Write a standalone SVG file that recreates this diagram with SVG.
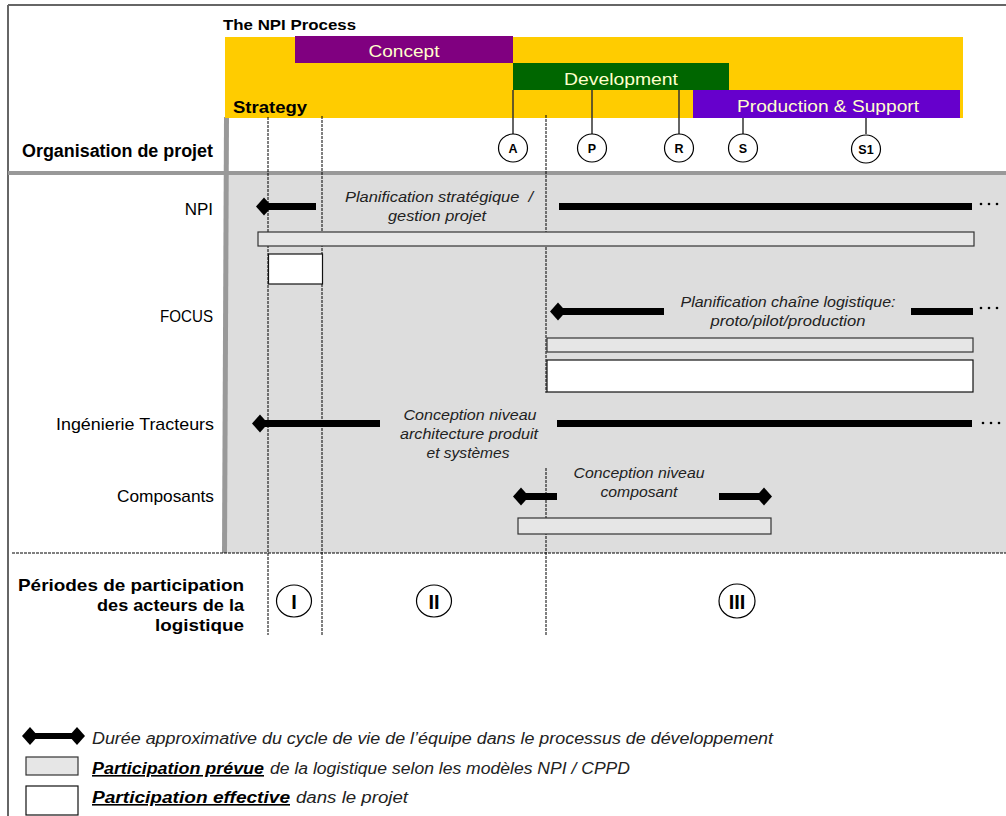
<svg xmlns="http://www.w3.org/2000/svg" width="1006" height="816" viewBox="0 0 1006 816">
<style>
text{font-family:"Liberation Sans",Arial,sans-serif;fill:#000}
.b{font-weight:bold}
.lbl{font-size:17px;text-anchor:end}
.it{font-style:italic;font-size:15.5px;text-anchor:middle;fill:#222}
.bar{fill:#FFFFCC;font-size:16.5px;text-anchor:middle}
.ms{font-size:12.5px;font-weight:bold;text-anchor:middle}
.per{font-size:20px;font-weight:bold;text-anchor:middle}
.lg{font-family:"Liberation Sans Narrow","Liberation Sans",Arial,sans-serif;font-style:italic;font-size:16px;fill:#222}
.lgb{font-weight:bold;text-decoration:underline;fill:#000}
.dash{stroke:#000;stroke-width:1;stroke-dasharray:3,1;fill:none}
.mline{stroke:#333;stroke-width:1.5}
.circ{fill:#fff;stroke:#000;stroke-width:1.2}
.prev{fill:#E6E6E6;stroke:#333;stroke-width:1.2}
.eff{fill:#fff;stroke:#111;stroke-width:1.2}
.thick{fill:#000}
.dot{fill:#000}
</style>
<defs>
<polygon id="dia" points="-8,0 0,-9 8,0 0,9" fill="#000"/>
</defs>
<rect x="0" y="0" width="1006" height="816" fill="#fff"/>
<g id="frame">
<line x1="8" y1="5" x2="1006" y2="5" stroke="#666" stroke-width="2"/>
<line x1="8" y1="5" x2="8" y2="816" stroke="#666" stroke-width="2"/>
</g>
<rect x="226" y="175" width="780" height="378" fill="#DDDDDD"/>
<polygon points="224,117 229,117 227,553 222,553" fill="#999"/>
<rect x="8" y="171" width="998" height="4" fill="#999"/>
<line x1="12" y1="553" x2="1006" y2="553" class="dash"/>

<g id="npi-process">
<text x="223" y="30" class="b" font-size="15.5" textLength="133" lengthAdjust="spacingAndGlyphs">The NPI Process</text>
<rect x="225" y="37" width="738" height="81" fill="#FFCC00"/>
<text x="233" y="113" class="b" font-size="17" textLength="74" lengthAdjust="spacingAndGlyphs">Strategy</text>
</g>
<g id="concept">
<rect x="295" y="36" width="218" height="27" fill="#800080"/>
<text x="404" y="57" class="bar" textLength="71" lengthAdjust="spacingAndGlyphs">Concept</text>
</g>
<g id="development">
<rect x="513" y="63" width="216" height="27" fill="#006600"/>
<text x="621" y="85" class="bar" textLength="114" lengthAdjust="spacingAndGlyphs">Development</text>
</g>
<g id="production">
<rect x="693" y="90" width="267" height="28" fill="#6600CC"/>
<text x="828" y="112" class="bar" textLength="182" lengthAdjust="spacingAndGlyphs">Production &amp; Support</text>
</g>

<g id="connectors">
<line x1="513" y1="90" x2="513" y2="134" class="mline"/>
<line x1="592" y1="90" x2="592" y2="134" class="mline"/>
<line x1="679" y1="90" x2="679" y2="134" class="mline"/>
<line x1="743" y1="118" x2="743" y2="134" class="mline"/>
<line x1="866" y1="118" x2="866" y2="134" class="mline"/>
<line x1="268" y1="117" x2="268" y2="635" class="dash"/>
<line x1="322" y1="116" x2="322" y2="635" class="dash"/>
<line x1="546" y1="115" x2="546" y2="393" class="dash"/>
<line x1="546" y1="468" x2="546" y2="635" class="dash"/>
</g>

<g id="ms-A"><ellipse cx="513" cy="148" rx="14.5" ry="14" class="circ"/><text x="513" y="152.5" class="ms">A</text></g>
<g id="ms-P"><ellipse cx="592" cy="148" rx="14.5" ry="14" class="circ"/><text x="592" y="152.5" class="ms">P</text></g>
<g id="ms-R"><ellipse cx="679" cy="148" rx="14.5" ry="14" class="circ"/><text x="679" y="152.5" class="ms">R</text></g>
<g id="ms-S"><ellipse cx="743" cy="148" rx="14.5" ry="14" class="circ"/><text x="743" y="152.5" class="ms">S</text></g>
<g id="ms-S1"><ellipse cx="866" cy="149" rx="14.5" ry="14" class="circ"/><text x="866" y="153.5" class="ms">S1</text></g>

<text x="213" y="157" class="b" font-size="18" text-anchor="end" textLength="191" lengthAdjust="spacingAndGlyphs">Organisation de projet</text>

<g id="row-npi">
<text x="213" y="215" class="lbl">NPI</text>
<rect x="264" y="203" width="52" height="7" class="thick"/>
<use href="#dia" x="264" y="206.5"/>
<text x="439" y="202" class="it" style="white-space:pre" textLength="188" lengthAdjust="spacingAndGlyphs">Planification stratégique  /</text>
<text x="437" y="221" class="it" textLength="98" lengthAdjust="spacingAndGlyphs">gestion projet</text>
<rect x="559" y="203" width="413" height="7" class="thick"/>
<circle cx="981" cy="204" r="1.3" class="dot"/><circle cx="989" cy="204" r="1.3" class="dot"/><circle cx="997" cy="204" r="1.3" class="dot"/>
<rect x="258" y="232" width="716" height="14" class="prev"/>
<rect x="268.5" y="254" width="54" height="30" class="eff"/>
</g>

<g id="row-focus">
<text x="213" y="322" class="lbl" textLength="53" lengthAdjust="spacingAndGlyphs">FOCUS</text>
<rect x="558" y="308" width="106" height="7" class="thick"/>
<use href="#dia" x="558" y="311.5"/>
<text x="788" y="307" class="it" textLength="215" lengthAdjust="spacingAndGlyphs">Planification chaîne logistique:</text>
<text x="788" y="326" class="it" textLength="155" lengthAdjust="spacingAndGlyphs">proto/pilot/production</text>
<rect x="911" y="308" width="62" height="7" class="thick"/>
<circle cx="981" cy="308" r="1.3" class="dot"/><circle cx="989" cy="308" r="1.3" class="dot"/><circle cx="997" cy="308" r="1.3" class="dot"/>
<rect x="547" y="338" width="426" height="14" class="prev"/>
<rect x="547" y="360" width="426" height="32" class="eff"/>
</g>

<g id="row-ingenierie">
<text x="214" y="430" class="lbl" textLength="158" lengthAdjust="spacingAndGlyphs">Ingénierie Tracteurs</text>
<rect x="260" y="420" width="120" height="7" class="thick"/>
<use href="#dia" x="260" y="423.5"/>
<text x="470" y="420" class="it" textLength="133" lengthAdjust="spacingAndGlyphs">Conception niveau</text>
<text x="469" y="439" class="it" textLength="138" lengthAdjust="spacingAndGlyphs">architecture produit</text>
<text x="468" y="458" class="it" textLength="83" lengthAdjust="spacingAndGlyphs">et systèmes</text>
<rect x="557" y="420" width="415" height="7" class="thick"/>
<circle cx="983" cy="423" r="1.3" class="dot"/><circle cx="991" cy="423" r="1.3" class="dot"/><circle cx="999" cy="423" r="1.3" class="dot"/>
</g>

<g id="row-composants">
<text x="214" y="502" class="lbl" textLength="97" lengthAdjust="spacingAndGlyphs">Composants</text>
<rect x="521" y="493" width="36" height="7" class="thick"/>
<use href="#dia" x="521" y="496.5"/>
<text x="639" y="478" class="it" textLength="131" lengthAdjust="spacingAndGlyphs">Conception niveau</text>
<text x="639" y="497" class="it" textLength="77" lengthAdjust="spacingAndGlyphs">composant</text>
<rect x="719" y="493" width="45" height="7" class="thick"/>
<use href="#dia" x="764" y="496.5"/>
<rect x="518" y="518" width="253" height="16" class="prev"/>
</g>

<g id="periods-label">
<text x="244" y="591" class="b lbl" font-size="18" textLength="226" lengthAdjust="spacingAndGlyphs">Périodes de participation</text>
<text x="244" y="611" class="b lbl" font-size="18" textLength="147" lengthAdjust="spacingAndGlyphs">des acteurs de la</text>
<text x="244" y="631" class="b lbl" font-size="18" textLength="89" lengthAdjust="spacingAndGlyphs">logistique</text>
</g>
<g id="period-I"><ellipse cx="294" cy="601" rx="17.5" ry="16" class="circ"/><text x="294" y="608.5" class="per">I</text></g>
<g id="period-II"><ellipse cx="434" cy="601" rx="17.5" ry="16" class="circ"/><text x="434" y="608.5" class="per">II</text></g>
<g id="period-III"><ellipse cx="737" cy="601" rx="18" ry="17" class="circ"/><text x="737" y="608.5" class="per">III</text></g>

<g id="legend-arrow">
<rect x="30" y="733" width="47" height="6" class="thick"/>
<use href="#dia" x="30" y="736"/>
<use href="#dia" x="77" y="736"/>
<text x="92" y="744" class="lg" textLength="681" lengthAdjust="spacingAndGlyphs">Durée approximative du cycle de vie de l’équipe dans le processus de développement</text>
</g>
<g id="legend-prevue">
<rect x="26" y="757" width="52" height="18" class="prev"/>
<text x="92" y="774" class="lg lgb" textLength="172" lengthAdjust="spacingAndGlyphs">Participation prévue</text>
<text x="270" y="774" class="lg" textLength="360" lengthAdjust="spacingAndGlyphs">de la logistique selon les modèles NPI / CPPD</text>
</g>
<g id="legend-effective">
<rect x="26" y="786" width="52" height="29" class="eff"/>
<text x="92" y="803" class="lg lgb" textLength="198" lengthAdjust="spacingAndGlyphs">Participation effective</text>
<text x="296" y="803" class="lg" textLength="112" lengthAdjust="spacingAndGlyphs">dans le projet</text>
</g>
</svg>
